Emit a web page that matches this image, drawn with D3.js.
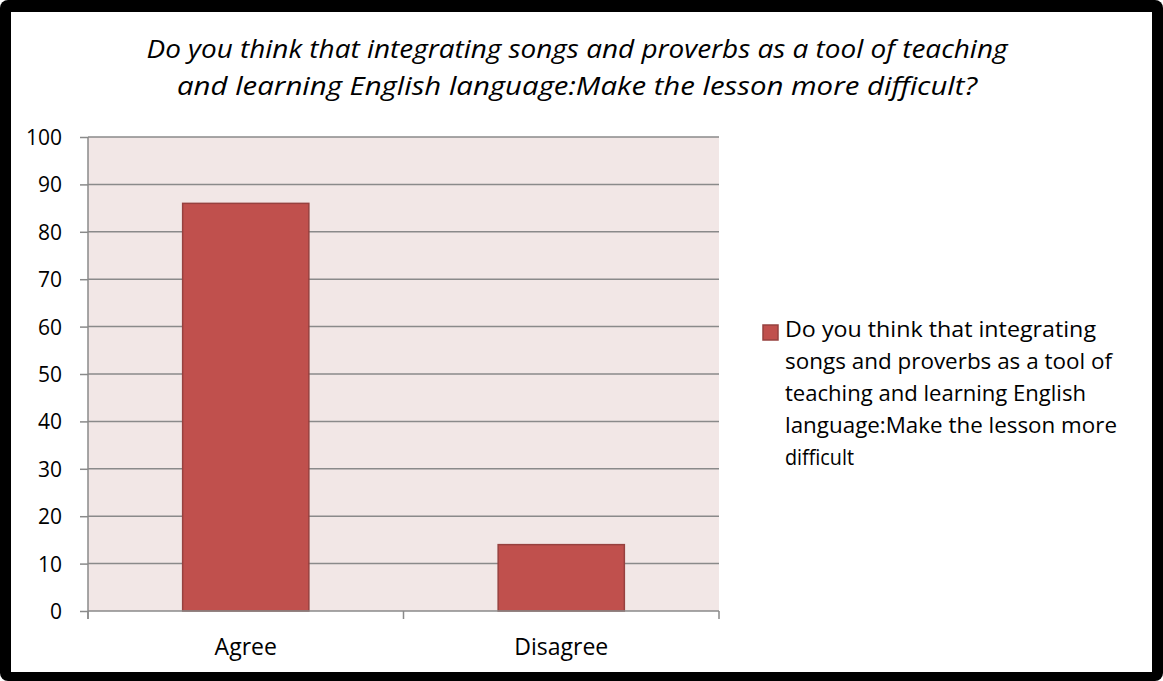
<!DOCTYPE html>
<html>
<head>
<meta charset="utf-8">
<script src="https://cdn.jsdelivr.net/npm/d3@7"></script>
<style>
  html, body { margin: 0; padding: 0; background: #fff; }
  svg { display: block; }
</style>
</head>
<body>
<svg id="chart" width="1163" height="681"></svg>
<script>
// Survey answers (percent of respondents)
const categories = ["Agree", "Disagree"];
const values = [86, 14];
const yTicks = [0, 10, 20, 30, 40, 50, 60, 70, 80, 90, 100];
const titleLines = [
  "Do you think that integrating songs and proverbs as a tool of teaching",
  "and learning English language:Make the lesson more difficult?"
];
const legendLines = [
  "Do you think that integrating",
  "songs and proverbs as a tool of",
  "teaching and learning English",
  "language:Make the lesson more",
  "difficult"
];

const font = "'Open Sans', 'Noto Sans', sans-serif";
const svg = d3.select("#chart");

// Frame
svg.append("rect").attr("x", 0).attr("y", 0).attr("width", 1163).attr("height", 681)
  .attr("rx", 8).attr("fill", "#000");
svg.append("rect").attr("x", 11).attr("y", 12).attr("width", 1141).attr("height", 660)
  .attr("fill", "#fff");

// Title
const titleWidths = [861, 800];
svg.append("g").selectAll("text").data(titleLines).join("text")
  .attr("x", 577).attr("y", (d, i) => 58 + i * 37)
  .attr("text-anchor", "middle")
  .attr("font-family", font).attr("font-style", "italic")
  .attr("font-size", 25).attr("fill", "#000")
  .attr("textLength", (d, i) => titleWidths[i])
  .attr("lengthAdjust", "spacingAndGlyphs")
  .text(d => d);

// Scales
const plot = { left: 88, right: 719, top: 137, bottom: 611 };
const x = d3.scaleBand().domain(categories)
  .range([plot.left, plot.right]).paddingInner(0.6).paddingOuter(0.3);
const y = d3.scaleLinear().domain([0, 100]).range([plot.bottom, plot.top]);

// Plot background
svg.append("rect")
  .attr("x", plot.left).attr("y", plot.top)
  .attr("width", plot.right - plot.left).attr("height", plot.bottom - plot.top)
  .attr("fill", "#f2e7e6");

// Gridlines
svg.append("g").selectAll("line").data(yTicks.filter(t => t > 0)).join("line")
  .attr("x1", plot.left).attr("x2", plot.right)
  .attr("y1", d => y(d)).attr("y2", d => y(d))
  .attr("stroke", "#8a8a8a").attr("stroke-width", 1.5);

// Bars
svg.append("g").selectAll("rect").data(categories).join("rect")
  .attr("x", d => x(d)).attr("width", x.bandwidth())
  .attr("y", (d, i) => y(values[i]))
  .attr("height", (d, i) => y(0) - y(values[i]))
  .attr("fill", "#c0504d").attr("stroke", "#97413f").attr("stroke-width", 1.5);

// Y axis
const yAxis = svg.append("g").attr("transform", `translate(${plot.left},0)`)
  .call(d3.axisLeft(y).tickValues(yTicks).tickSize(8).tickPadding(18));
yAxis.select(".domain").attr("stroke", "#8a8a8a").attr("stroke-width", 1.5)
  .attr("d", `M0,${plot.top}V${plot.bottom + 8}`);
yAxis.selectAll(".tick line").attr("stroke", "#8a8a8a").attr("stroke-width", 1.5);
yAxis.selectAll(".tick text").attr("font-family", font).attr("font-size", 21)
  .attr("fill", "#000").attr("dy", "0.36em");

// X axis: ticks sit on the category boundaries
const boundaries = [plot.left, (plot.left + plot.right) / 2, plot.right];
const xAxis = svg.append("g").attr("transform", `translate(0,${plot.bottom})`);
xAxis.append("line").attr("x1", plot.left).attr("x2", plot.right)
  .attr("stroke", "#8a8a8a").attr("stroke-width", 1.5);
xAxis.selectAll(".bt").data(boundaries).join("line").attr("class", "bt")
  .attr("x1", d => d).attr("x2", d => d).attr("y1", 0).attr("y2", 8)
  .attr("stroke", "#8a8a8a").attr("stroke-width", 1.5);
xAxis.selectAll("text").data(categories).join("text")
  .attr("x", d => x(d) + x.bandwidth() / 2).attr("y", 44)
  .attr("text-anchor", "middle")
  .attr("font-family", font).attr("font-size", 23).attr("fill", "#000")
  .text(d => d);

// Legend
const legend = svg.append("g");
legend.append("rect").attr("x", 763).attr("y", 325).attr("width", 15).attr("height", 15)
  .attr("fill", "#c0504d").attr("stroke", "#97413f").attr("stroke-width", 1.5);
const legendWidths = [311, 327, 301, 332, 69];
legend.selectAll("text").data(legendLines).join("text")
  .attr("x", 785).attr("y", (d, i) => 337 + i * 32)
  .attr("font-family", font).attr("font-size", 21).attr("fill", "#000")
  .attr("textLength", (d, i) => legendWidths[i])
  .attr("lengthAdjust", "spacingAndGlyphs")
  .text(d => d);
</script>
</body>
</html>
